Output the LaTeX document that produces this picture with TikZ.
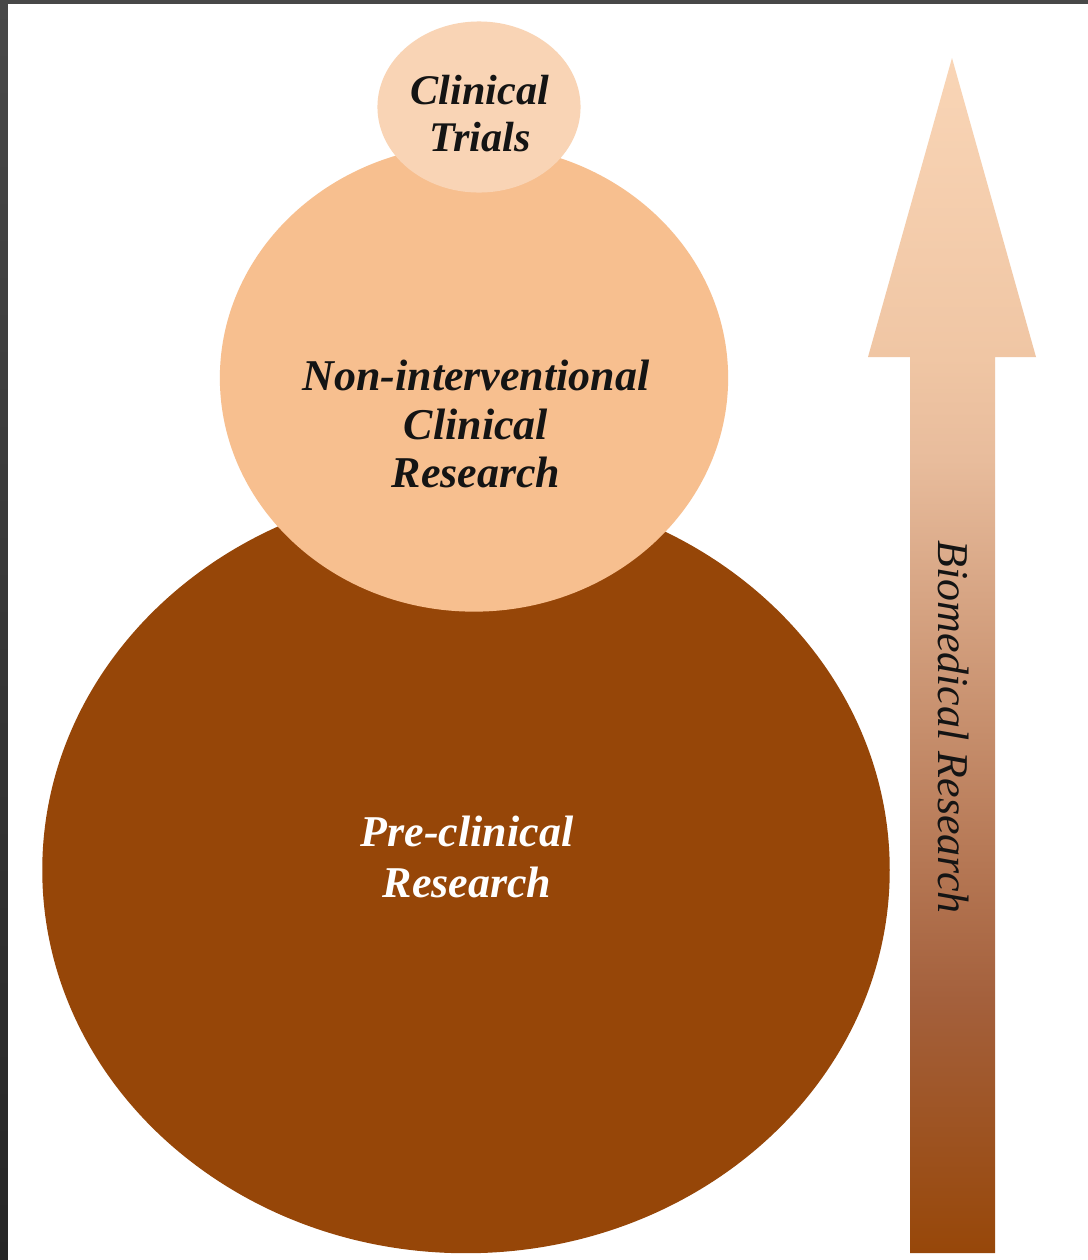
\documentclass[tikz,border=0pt]{standalone}
\usepackage{fontspec}
\setmainfont{Liberation Serif}
\usetikzlibrary{shapes.geometric}

\definecolor{frametop}{HTML}{484848}
\definecolor{framebot}{HTML}{262626}
\definecolor{prebrown}{HTML}{964608}
\definecolor{midpeach}{HTML}{F7BF8F}
\definecolor{toppeach}{HTML}{F9D4B5}
\definecolor{arrowtop}{HTML}{F9D5B6}
\definecolor{arrowneck}{HTML}{F0C6A4}
\definecolor{arrowupper}{HTML}{E8BC9C}
\definecolor{arrowlower}{HTML}{A4603C}
\definecolor{arrowbot}{HTML}{974709}
\definecolor{inkdark}{HTML}{141414}

% arrow fill, bottom to top (path box maps to 25bp--75bp)
\pgfdeclareverticalshading{bioshade}{100bp}{color(0bp)=(arrowbot); color(25bp)=(arrowbot);
  color(35.6bp)=(arrowlower); color(58.2bp)=(arrowupper); color(62.5bp)=(arrowneck);
  color(75bp)=(arrowtop); color(100bp)=(arrowtop)}

\begin{document}
\begin{tikzpicture}[x=0.01cm,y=-0.01cm,
    blob/.style={ellipse, inner sep=0pt, draw=none},
    blobtext/.style={align=center, inner sep=0pt, text=inkdark}]
	% Frame and page
	\useasboundingbox (0,0) rectangle (1088,1260);
	\shade[top color=frametop, bottom color=framebot] (0,0) rectangle (1088,1260);
	\fill[white] (8,4) rectangle (1088,1260);
	
	% Pre-clinical research
	\node[blob, fill=prebrown, minimum width=8.47cm, minimum height=7.66cm] (pre) at (466,870) {};
	\node[blobtext, text=white, font=\fontsize{12.5}{14.6}\selectfont\bfseries\itshape] (pretext) at (467,857) {Pre-clinical\\Research};
	
	% Non-interventional clinical research
	\node[blob, fill=midpeach, minimum width=5.08cm, minimum height=4.67cm] (nonint) at (474,378) {};
	\node[blobtext, font=\fontsize{12.5}{13.7}\selectfont\bfseries\itshape] (noninttext) at (476,424) {Non-interventional\\Clinical\\Research};
	
	% Clinical trials
	\node[blob, fill=toppeach, minimum width=2.03cm, minimum height=1.71cm] (trials) at (479,107) {};
	\node[blobtext, font=\fontsize{12}{13.4}\selectfont\bfseries\itshape] (trialstext) at (480,114) {Clinical\\Trials};
	
	% Arrow
	\shade[shading=bioshade]
	  (952,58) -- (1036,357) -- (995,357) -- (995,1253) -- (910,1253) -- (910,357) -- (868,357) -- cycle;
	\node[blobtext, rotate=-90, font=\fontsize{12.5}{14}\selectfont\itshape] (biomed) at (954,727) {Biomedical Research};
\end{tikzpicture}
\end{document}
